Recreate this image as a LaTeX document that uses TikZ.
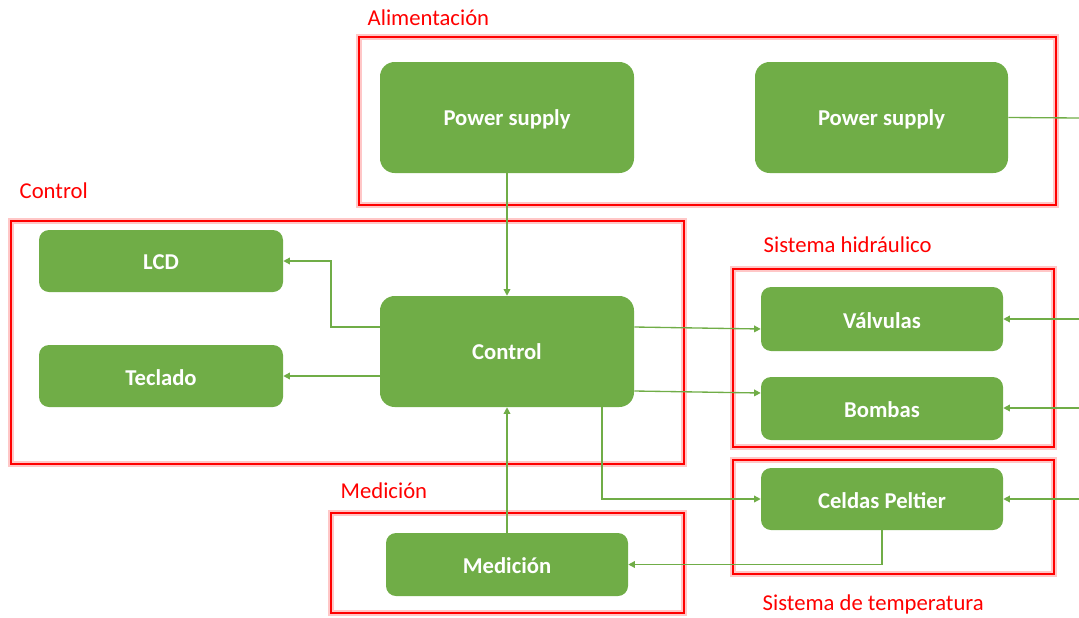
\documentclass[tikz,border=0pt]{standalone}
\usepackage{fontspec}
\setmainfont{Carlito}
\usetikzlibrary{arrows.meta,fit}
\definecolor{blkgreen}{HTML}{70AD47}
\definecolor{frred}{HTML}{FF0000}
\tikzset{
  blk/.style={fill=blkgreen, draw=none, rounded corners=7.5pt, inner sep=0pt,
    text=white, font=\fontsize{17}{20}\selectfont\bfseries},
  bigblk/.style={blk, rounded corners=11pt},
  frame/.style={draw=frred, line width=1.1pt,
    preaction={draw=frred!22, line width=4pt}},
  grp/.style={text=frred, anchor=west, font=\fontsize{17}{20}\selectfont},
  link/.style={draw=blkgreen, line width=1pt, -{Triangle[length=5pt,width=5pt]}},
  wire/.style={draw=blkgreen, line width=1pt}
}
\begin{document}
\begin{tikzpicture}[x=0.75pt,y=0.75pt,yscale=-1,xscale=1]
\useasboundingbox (0,0) rectangle (1079,618);

% group frames
\draw[frame] (359,37) rectangle (1056,205);
\draw[frame] (11,221) rectangle (684,464);
\draw[frame] (733,269) rectangle (1054,447);
\draw[frame] (733,460) rectangle (1054,574);
\draw[frame] (331,513) rectangle (684,613);

\node[grp] (lAlim) at (363,18) {Alimentación};
\node[grp] (lCtrl) at (15,191) {Control};
\node[grp] (lHidr) at (759,245) {Sistema hidráulico};
\node[grp] (lMed)  at (336,491) {Medición};
\node[grp] (lTemp) at (758,604) {Sistema de temperatura};

% blocks
\node[bigblk, fit={(380,62) (634,173)}] (ps1) {};
\node[bigblk, fit={(755,62) (1008,173)}] (ps2) {};
\node[blk, fit={(39,230) (283,292)}] (lcd) {};
\node[blk, fit={(39,345) (283,407)}] (tec) {};
\node[bigblk, fit={(380,296) (634,407)}] (ctrl) {};
\node[blk, fit={(761,287) (1003,351)}] (valv) {};
\node[blk, fit={(761,377) (1003,440)}] (bomb) {};
\node[blk, fit={(761,468) (1003,530)}] (celd) {};
\node[blk, fit={(386,533) (628,596)}] (med) {};

\node[blk, fill=none] at ([yshift=1]ps1) {Power supply};
\node[blk, fill=none] at ([yshift=1]ps2) {Power supply};
\node[blk, fill=none] at ([yshift=1]lcd) {LCD};
\node[blk, fill=none] at ([yshift=1]tec) {Teclado};
\node[blk, fill=none] at (ctrl) {Control};
\node[blk, fill=none] at ([yshift=1]valv) {Válvulas};
\node[blk, fill=none] at ([yshift=1]bomb) {Bombas};
\node[blk, fill=none] at ([yshift=1]celd) {Celdas Peltier};
\node[blk, fill=none] at ([yshift=1]med) {Medición};

% free ends on the right edge
\coordinate (outPS) at (1079,118);
\coordinate (inV) at (1079,319);
\coordinate (inB) at (1079,408);
\coordinate (inC) at (1079,499);
\coordinate (bendL) at (331,327);

% connectors
\draw[link] (ps1) -- (ctrl);
\draw[wire] (ps2.east) -- (outPS);
\draw[link] (inV) -- (valv.east);
\draw[link] (inB) -- (bomb.east |- inB);
\draw[link] (inC) -- (celd.east |- inC);
\draw[link] (ctrl.west |- bendL) -- (bendL) |- (lcd.east);
\draw[link] (ctrl.west |- tec) -- (tec.east);
\draw[link] (ctrl.east |- 0,327) -- (valv.west |- 0,329);
\draw[link] (ctrl.east |- 0,391) -- (bomb.west |- 0,393);
\draw[link] (ctrl.south -| 602,0) |- (celd.west);
\draw[link] (celd.south) |- (med.east);
\draw[link] (med) -- (ctrl);

\end{tikzpicture}
\end{document}
